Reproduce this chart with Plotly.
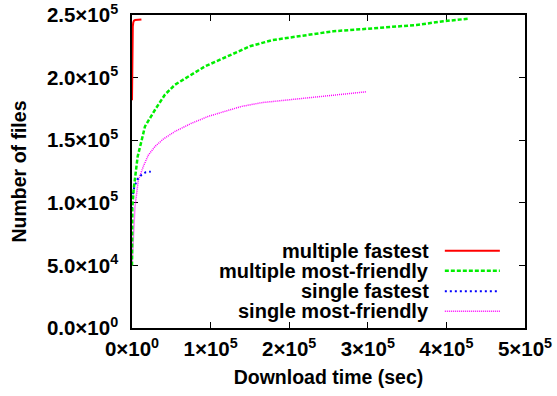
import plotly.graph_objects as go

# Download time (sec) vs cumulative number of files
mf_x = [0, 300, 600, 1000, 1600, 2500, 4000, 7000, 12000]
mf_y = [182000, 215000, 235000, 241000, 244000, 245500, 246000, 246400, 246500]

mfr_x = [0, 500, 2000, 3800, 7200, 12300, 16500, 29300, 42000, 54700, 76000,
         92900, 112000, 150000, 179000, 256000, 299000, 362000, 396000, 427000]
mfr_y = [50000, 97000, 110000, 118000, 137000, 150000, 161000, 174300, 186500, 194300, 202300,
         209000, 214300, 225000, 230000, 237000, 239000, 242000, 245000, 247000]

sf_x = [0, 400, 3000, 7200, 11500, 17400, 24000]
sf_y = [95000, 104000, 113000, 119000, 122000, 124400, 124900]

sfr_x = [0, 1700, 3800, 8000, 14400, 20700, 29300, 40000, 54700, 76000, 97000,
         118000, 139500, 165000, 192500, 235000, 277000, 298500]
sfr_y = [50000, 75500, 97000, 118000, 129000, 138000, 145000, 151000, 157000, 163600, 169000,
         173000, 177000, 180000, 181700, 184500, 187100, 188700]

series_names = ["multiple fastest", "multiple most-friendly", "single fastest", "single most-friendly"]

x_ticks = [0, 100000, 200000, 300000, 400000, 500000]
x_tick_text = ["0×10<sup>0</sup>", "1×10<sup>5</sup>", "2×10<sup>5</sup>",
               "3×10<sup>5</sup>", "4×10<sup>5</sup>", "5×10<sup>5</sup>"]
y_ticks = [0, 50000, 100000, 150000, 200000, 250000]
y_tick_text = ["0.0×10<sup>0</sup>", "5.0×10<sup>4</sup>", "1.0×10<sup>5</sup>",
               "1.5×10<sup>5</sup>", "2.0×10<sup>5</sup>", "2.5×10<sup>5</sup>"]

FONT = "Liberation Sans, Arial, sans-serif"
styles = [
    dict(color="#ff0000", width=2, dash="solid"),
    dict(color="#00ee00", width=2.5, dash="4px,2px"),
    dict(color="#0000ff", width=2, dash="2px,3px"),
    dict(color="#ff00ff", width=1.5, dash="1px,1px"),
]
data = [(mf_x, mf_y), (mfr_x, mfr_y), (sf_x, sf_y), (sfr_x, sfr_y)]

fig = go.Figure()
# draw back-to-front so the red curve lies on top
for i in [3, 2, 1, 0]:
    xs, ys = data[i]
    fig.add_trace(go.Scatter(x=xs, y=ys, mode="lines", name=series_names[i],
                             line=styles[i], showlegend=False))

# key in the lower right: right-aligned labels with line samples after them
key_y = [0.2466, 0.1826, 0.1176, 0.0535]
for i, name in enumerate(series_names):
    fig.add_annotation(x=0.758, y=key_y[i], xref="paper", yref="paper",
                       text=f"<b>{name}</b>", showarrow=False,
                       xanchor="right", yanchor="middle", borderpad=0,
                       font=dict(family=FONT, size=20, color="black"))
    fig.add_shape(type="line", xref="paper", yref="paper",
                  x0=0.796, x1=0.936, y0=key_y[i], y1=key_y[i],
                  line=styles[i])

axis_common = dict(
    showgrid=False, zeroline=False, showline=True, linecolor="black", linewidth=1.5,
    mirror="allticks", ticks="inside", ticklen=6, tickwidth=1, tickcolor="black",
    layer="below traces", automargin=False,
    tickfont=dict(family=FONT, size=20.5, color="black", weight="bold"),
)

fig.update_layout(
    width=557, height=396,
    margin=dict(l=132, r=32, t=15, b=68),
    paper_bgcolor="white", plot_bgcolor="white",
    font=dict(family=FONT, color="black"),
    xaxis=dict(range=[0, 500000], tickvals=x_ticks, ticktext=x_tick_text,
               ticklabelstandoff=2,
               title=dict(text="<b>Download time (sec)</b>", standoff=11,
                          font=dict(family=FONT, size=19.5)),
               **axis_common),
    yaxis=dict(range=[0, 250000], tickvals=y_ticks, ticktext=y_tick_text,
               ticklabelstandoff=8,
               title=dict(text="<b>Number of files</b>", standoff=15,
                          font=dict(family=FONT, size=19.5)),
               **axis_common),
)

fig.write_html("out.html")
